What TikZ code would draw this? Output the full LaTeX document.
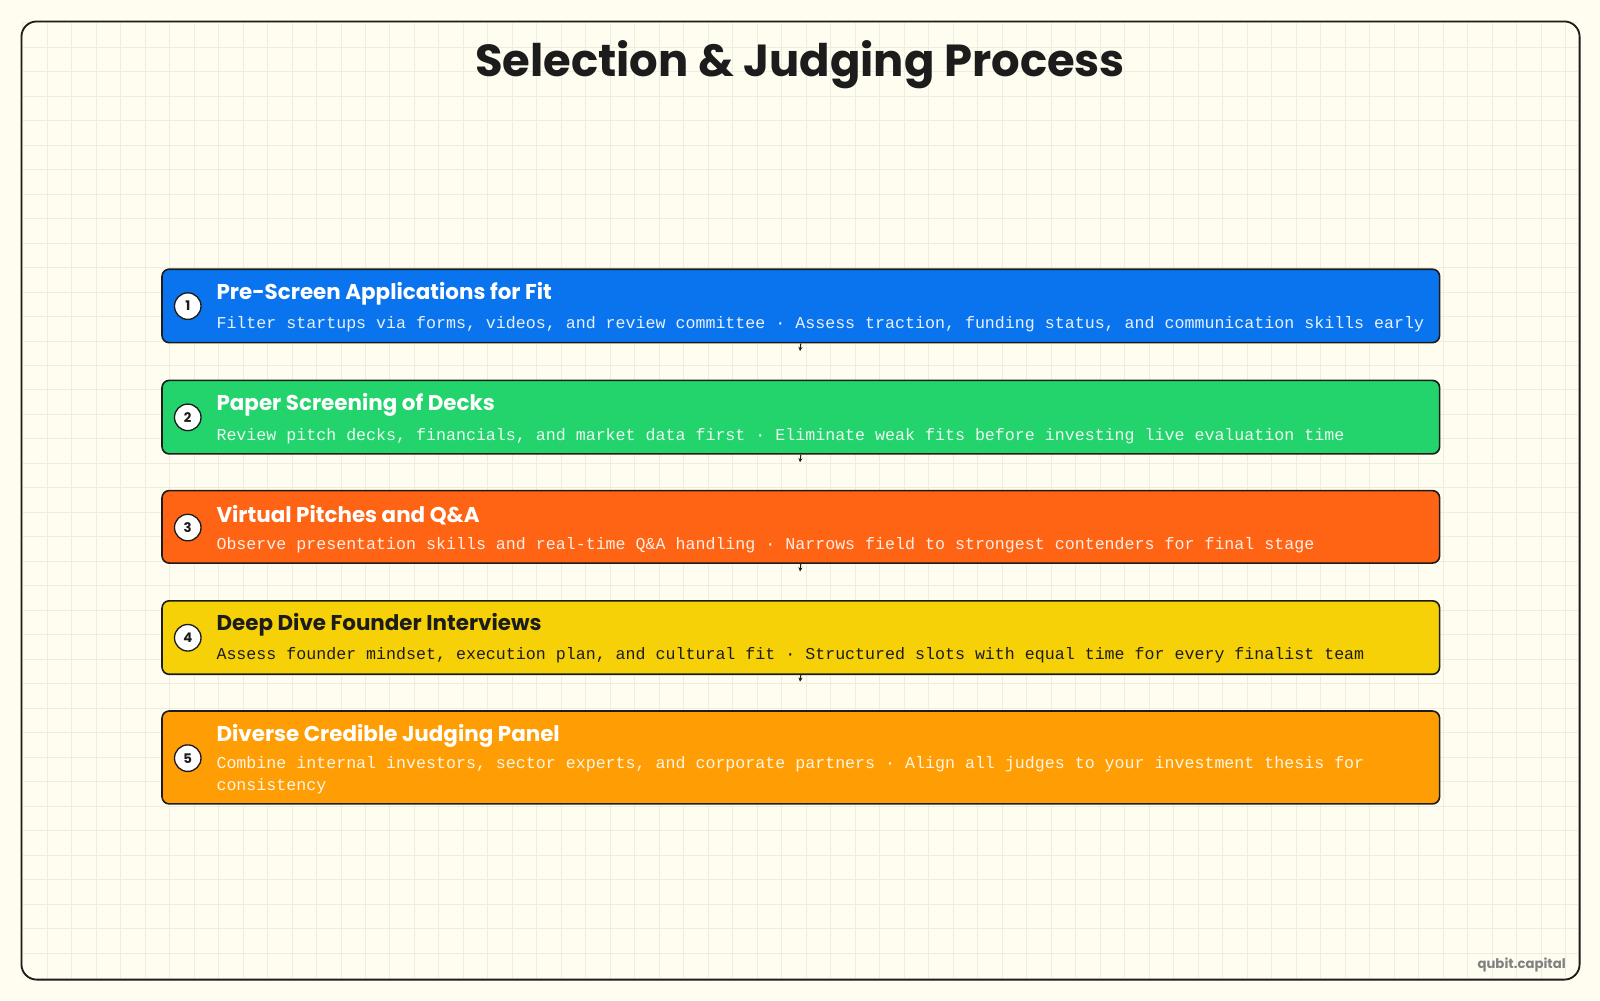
\documentclass[tikz,border=0pt]{standalone}
\usepackage{fontspec}
\setmainfont{Poppins}
\newfontfamily\monof{Liberation Mono}
\newfontfamily\headf{Poppins}
\usetikzlibrary{arrows.meta}
\definecolor{bg}{HTML}{FFFDF0}
\definecolor{gridc}{HTML}{EFEDE0}
\definecolor{cA}{HTML}{0A74EE}
\definecolor{cB}{HTML}{22D46B}
\definecolor{cC}{HTML}{FF6314}
\definecolor{cD}{HTML}{F7D108}
\definecolor{cE}{HTML}{FF9D05}
\definecolor{ink}{HTML}{1C1C1C}
\tikzset{
 stepbox/.style={draw=ink, line width=1.6pt, rounded corners=7pt, minimum width=1252pt, anchor=north west, inner sep=0pt},
 num/.style={circle, draw=ink, fill=white, line width=1.3pt, minimum size=26pt, inner sep=0pt, font=\headf\bfseries\fontsize{13}{13}\selectfont, text=ink},
 head/.style={anchor=west, inner sep=0pt, font=\headf\bfseries\fontsize{21}{21}\selectfont},
 sub/.style={anchor=west, inner sep=0pt, align=left, font=\monof\fontsize{16.3}{22}\selectfont},
 stub/.style={draw=ink, line width=1pt, -{Stealth[length=4pt,width=4pt]}}
}
\begin{document}
\begin{tikzpicture}[x=1pt,y=-1pt]
\useasboundingbox (0,0) rectangle (1568,980);
\fill[bg] (0,0) rectangle (1568,980);
\foreach \i in {0,...,63} \draw[gridc, line width=0.6pt] (22+24*\i,22) -- (22+24*\i,958);
\foreach \j in {0,...,38} \draw[gridc, line width=0.6pt] (22,22+24*\j) -- (1546,22+24*\j);
\draw[ink, line width=1.8pt, rounded corners=15pt] (21,21) rectangle (1548,960);
\node[font=\headf\bfseries\fontsize{44}{44}\selectfont, text=ink] (title) at (784,63) {Selection \& Judging Process};

\node[stepbox, fill=cA, minimum height=72pt] (b1) at (158,263) {};
\node[stepbox, fill=cB, minimum height=72pt] (b2) at (158,372) {};
\node[stepbox, fill=cC, minimum height=71pt] (b3) at (158,480) {};
\node[stepbox, fill=cD, minimum height=72pt] (b4) at (158,588) {};
\node[stepbox, fill=cE, minimum height=91pt] (b5) at (158,696) {};

\node[num] (n1) at (184,300) {1};
\node[num] (n2) at (184,409) {2};
\node[num] (n3) at (184,517) {3};
\node[num] (n4) at (184,625) {4};
\node[num] (n5) at (184,743) {5};

\node[head, text=white] (h1) at (212,288) {Pre-Screen Applications for Fit};
\node[sub, text=white!90!cA] (s1) at (212,318) {Filter startups via forms, videos, and review committee · Assess traction, funding status, and communication skills early};
\node[head, text=white] (h2) at (212,397) {Paper Screening of Decks};
\node[sub, text=white!90!cB] (s2) at (212,427) {Review pitch decks, financials, and market data first · Eliminate weak fits before investing live evaluation time};
\node[head, text=white] (h3) at (212,505) {Virtual Pitches and Q\&A};
\node[sub, text=white!90!cC] (s3) at (212,534) {Observe presentation skills and real-time Q\&A handling · Narrows field to strongest contenders for final stage};
\node[head, text=ink] (h4) at (212,612) {Deep Dive Founder Interviews};
\node[sub, text=ink] (s4) at (212,642) {Assess founder mindset, execution plan, and cultural fit · Structured slots with equal time for every finalist team};
\node[head, text=white] (h5) at (212,721) {Diverse Credible Judging Panel};
\node[sub, text=white!90!cE, anchor=north west] (s5) at (212,741) {Combine internal investors, sector experts, and corporate partners · Align all judges to your investment thesis for\\consistency};

\coordinate (e1) at (784,344);
\coordinate (e2) at (784,453);
\coordinate (e3) at (784,560);
\coordinate (e4) at (784,668);
\draw[stub] (b1.south) -- (e1);
\draw[stub] (b2.south) -- (e2);
\draw[stub] (b3.south) -- (e3);
\draw[stub] (b4.south) -- (e4);

\node[font=\headf\bfseries\fontsize{13}{13}\selectfont, text=gray, anchor=east] (wm) at (1538,946) {qubit.capital};
\end{tikzpicture}
\end{document}
